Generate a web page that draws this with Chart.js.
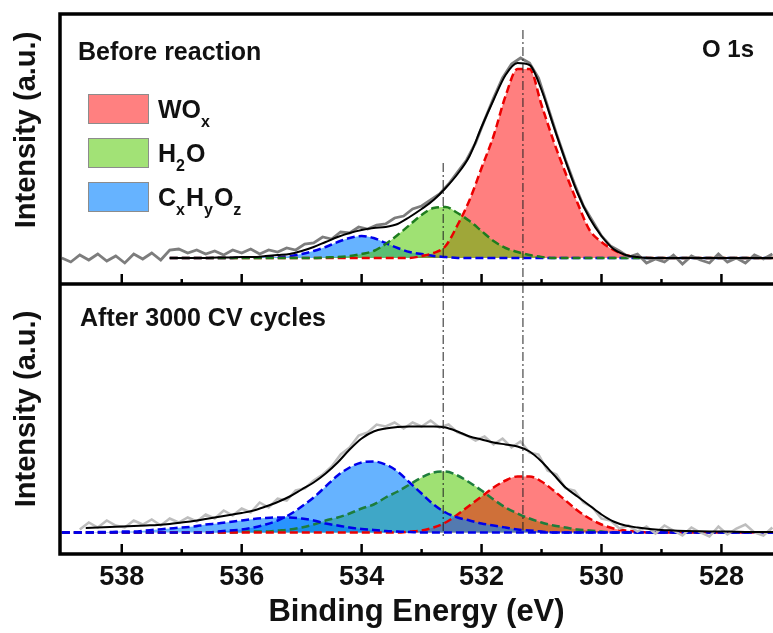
<!DOCTYPE html>
<html lang="en">
<head>
<meta charset="UTF-8" />
<title>O 1s XPS before / after reaction</title>
<script src="https://cdn.jsdelivr.net/npm/chart.js"></script>
<style>
  html, body { margin: 0; padding: 0; background: #fff; overflow: hidden; }
  canvas { display: block; }
</style>
</head>
<body>
<canvas id="xps" width="773" height="633"></canvas>
<script>
// binding energy grid for the fitted curves (eV)
const fitE = [
  539.0, 538.8, 538.6, 538.4, 538.2, 538.0, 537.8, 537.6, 537.4, 537.2,
  537.0, 536.8, 536.6, 536.4, 536.2, 536.0, 535.8, 535.6, 535.4, 535.2,
  535.0, 534.8, 534.6, 534.4, 534.2, 534.0, 533.8, 533.6, 533.4, 533.2,
  533.0, 532.8, 532.6, 532.4, 532.2, 532.0, 531.8, 531.6, 531.4, 531.2,
  531.0, 530.8, 530.6, 530.4, 530.2, 530.0, 529.8, 529.6, 529.4, 529.2,
  529.0, 528.8, 528.6, 528.4, 528.2, 528.0, 527.8, 527.6, 527.4, 527.2,
  527.0
];

// binding energy grid for the measured spectra (eV)
const rawE = [
  539.00, 538.85, 538.70, 538.55, 538.40, 538.25, 538.10, 537.95, 537.80, 537.65,
  537.50, 537.35, 537.20, 537.05, 536.90, 536.75, 536.60, 536.45, 536.30, 536.15,
  536.00, 535.85, 535.70, 535.55, 535.40, 535.25, 535.10, 534.95, 534.80, 534.65,
  534.50, 534.35, 534.20, 534.05, 533.90, 533.75, 533.60, 533.45, 533.30, 533.15,
  533.00, 532.85, 532.70, 532.55, 532.40, 532.25, 532.10, 531.95, 531.80, 531.65,
  531.50, 531.35, 531.20, 531.05, 530.90, 530.75, 530.60, 530.45, 530.30, 530.15,
  530.00, 529.85, 529.70, 529.55, 529.40, 529.25, 529.10, 528.95, 528.80, 528.65,
  528.50, 528.35, 528.20, 528.05, 527.90, 527.75, 527.60, 527.45, 527.30, 527.15
];

// ---- before reaction (a.u.) ----
const topWOx = [
  null, null, null, null, null, null, null, null, null, 0,
  0, 0, 0, 0, 0, 0, 0, 0, 0, 0,
  0, 0, 0, 0, 0, 0, 0, 0, 0, 0,
  2, 5, 12, 33, 58, 90, 122, 162, 189, 189,
  153, 117, 85, 55, 28, 16, 8, 3, 1, 0,
  0, 0, 0, 0, 0, 0, 0, 0, 0, 0,
  0
];
const topH2O = [
  null, null, null, null, null, null, null, null, null, 0,
  0, 0, 0, 0, 0, 0, 0, 0, 0, 0,
  0, 0, 0.5, 1, 2, 4, 7, 14, 23, 33,
  43, 50, 51, 45, 37, 27, 17, 10, 6, 3,
  1, 0, 0, 0, 0, 0, 0, 0, 0, 0,
  0, 0, 0, 0, 0, 0, 0, 0, 0, 0,
  0
];
const topCHO = [
  null, null, null, null, null, null, null, null, null, 0,
  0, 0, 0, 0, 0, 0.5, 0.5, 1, 1, 2,
  4, 7, 11, 16, 20, 22, 20, 15, 10, 6,
  4, 2, 1, 0, 0, 0, 0, 0, 0, 0,
  0, 0, 0, 0, 0, 0, 0, 0, 0, 0,
  0, 0, 0, 0, 0, 0, 0, 0, 0, 0,
  0
];
const topFit = [
  null, null, null, null, null, null, null, null, null, 0,
  0, 0, 0, 0.5, 0.5, 1, 1, 2, 3, 4,
  7, 11, 16, 21, 25, 28, 30, 31, 34, 41,
  49, 58, 70, 84, 102, 131, 158, 183, 195, 193,
  168, 132, 97, 65, 40, 22, 9, 3, 1, 0,
  0, 0, 0, 0, 0, 0, 0, 0, 0, 0,
  0
];
const topRaw = [
  0, -4, 3, -2, 4, -3, 2, -5, 4, -1,
  5, -2, 8, 9, 5, 8, 4, 7, 3, 8,
  5, 9, 4, 8, 6, 10, 8, 14, 15, 21,
  19, 26, 25, 31, 29, 33, 34, 40, 42, 49,
  52, 58, 64, 74, 86, 98, 115, 138, 160, 180,
  194, 200, 195, 180, 152, 124, 98, 74, 52, 37,
  22, 12, 7, 1, 4, -5, -1, -4, 3, -6,
  2, -2, -5, 4, -4, 0, -5, 3, -1, 4
];

// ---- after 3000 CV cycles (a.u.) ----
const botWOx = [
  0, 0, 0, 0, 0, 0, 0, 0, 0, 0,
  0, 0, 0, 0, 0, 0, 0, 0, 0, 0,
  0, 0, 0, 0, 0, 0, 0, 0, 0, 1,
  2, 5, 10, 18, 27, 36, 45, 52, 56, 56,
  51, 42, 32, 22, 14, 8, 4, 2, 1, 0,
  0, 0, 0, 0, 0, 0, 0, 0, 0, 0,
  0
];
const botH2O = [
  0, 0, 0, 0, 0, 0, 0, 0, 0, 0,
  0, 0, 0, 0, 0, 0.5, 1, 1, 2, 3,
  5, 8, 12, 15, 19, 24, 28, 35, 41, 48,
  55, 60, 61, 57, 50, 42, 33, 25, 19, 14,
  10, 7, 5, 3, 2, 1, 0, 0, 0, 0,
  0, 0, 0, 0, 0, 0, 0, 0, 0, 0,
  0
];
const botCHO = [
  0, 0, 0, 0, 0, 0, 0, 0, 0, 0,
  0, 0, 0, 1, 2, 3, 5, 8, 12, 18,
  26, 35, 46, 57, 65, 70, 71, 68, 61, 50,
  39, 28, 20, 15, 12, 9, 7, 5, 3, 2,
  1, 0, 0, 0, 0, 0, 0, 0, 0, 0,
  0, 0, 0, 0, 0, 0, 0, 0, 0, 0,
  0
];
const botCHO2 = [
  0, 0, 0, 0.5, 0.5, 1, 1, 2, 3, 4,
  5, 6, 8, 9, 10.5, 12, 13.5, 14.5, 15, 15,
  14, 12, 9, 7, 5, 3.5, 2.5, 1.5, 1, 0.5,
  0, 0, 0, 0, 0, 0, 0, 0, 0, 0,
  0, 0, 0, 0, 0, 0, 0, 0, 0, 0,
  0, 0, 0, 0, 0, 0, 0, 0, 0, 0,
  0
];
const botFit = [
  null, null, 4.5, 5, 5.5, 6, 6.5, 7, 7.5, 8.5,
  10, 11.5, 13.5, 15.5, 17.5, 19.5, 22, 26, 30.5, 36,
  43, 50, 59, 70, 83, 94, 101, 104, 105.5, 106,
  106, 106, 105, 101, 96, 93, 90, 88, 86, 81,
  71, 58, 45, 36, 27, 18, 11, 7, 5, 3.5,
  2.5, 2, 1.5, 1.2, 1, 1, 0.8, 0.6, 0.5, 0.5,
  0.5
];
const botRaw = [
  null, null, 3, 10, 5, 12, 7, 5, 12, 8,
  13, 7, 14, 10, 15, 11, 18, 14, 22, 17,
  24, 20, 30, 25, 34, 32, 42, 44, 52, 58,
  66, 78, 85, 97, 100, 108, 106, 110, 104, 110,
  106, 112, 105, 108, 100, 97, 92, 96, 88, 94,
  85, 91, 80, 78, 62, 58, 44, 42, 30, 25,
  14, 12, 4, 7, 1, 6, -1, 7, 2, -3,
  5, 0, -4, 6, -2, 4, 8, 0, -3, 5
];

// peak position guides (eV) and where each guide starts / ends
const guideE = [531.31, 532.64];
const guideTopStart = [228, 95];
const guideBotEnd = [2, -5];

// x axis ticks
const tickE = [538, 537, 536, 535, 534, 533, 532, 531, 530, 529, 528];
const tickLabels = ['538', '', '536', '', '534', '', '532', '', '530', '', '528'];

const legendColors = ['rgb(255,128,128)', 'rgb(162,226,118)', 'rgb(102,179,255)'];
const legendText = [
  [['WO', 0], ['x', 1]],
  [['H', 0], ['2', 1], ['O', 0]],
  [['C', 0], ['x', 1], ['H', 0], ['y', 1], ['O', 0], ['z', 1]]
];

const FONT = '"Liberation Sans", Arial, sans-serif';
Chart.defaults.font.family = FONT;

const RED_FILL = 'rgba(255,0,0,0.5)';
const GREEN_FILL = 'rgba(80,200,0,0.55)';
const BLUE_FILL = 'rgba(0,128,255,0.6)';

const pts = (xs, ys) => xs.map((x, i) => ({ x: x, y: ys[i] }));

function comp(label, ys, axis, line, fillColor, order) {
  return {
    label: label,
    data: pts(fitE, ys),
    yAxisID: axis,
    borderColor: line,
    backgroundColor: fillColor,
    fill: { value: 0 },
    borderWidth: 2.5,
    borderDash: [8, 4],
    pointRadius: 0,
    cubicInterpolationMode: 'monotone',
    order: order
  };
}

function curve(label, xs, ys, axis, color, width, order, smooth) {
  return {
    label: label,
    data: pts(xs, ys),
    yAxisID: axis,
    borderColor: color,
    borderWidth: width,
    pointRadius: 0,
    fill: false,
    cubicInterpolationMode: smooth ? 'monotone' : 'default',
    tension: 0,
    order: order
  };
}

const datasets = [
  // before reaction: blue under red under green
  comp('CxHyOz', topCHO, 'yT', 'rgb(0,0,235)', BLUE_FILL, 12),
  comp('WOx', topWOx, 'yT', 'rgb(235,0,0)', RED_FILL, 11),
  comp('H2O', topH2O, 'yT', 'rgb(30,125,30)', GREEN_FILL, 10),
  curve('raw', rawE, topRaw, 'yT', 'rgb(125,125,125)', 2.8, 3, false),
  curve('fit', fitE, topFit, 'yT', '#000', 2, 2, true),
  // after 3000 CV cycles: green under red under blue
  comp('H2O', botH2O, 'yB', 'rgb(30,125,60)', GREEN_FILL, 22),
  comp('WOx', botWOx, 'yB', 'rgb(235,0,0)', RED_FILL, 21),
  comp('CxHyOz', botCHO, 'yB', 'rgb(0,0,235)', BLUE_FILL, 20),
  comp('CxHyOz', botCHO2, 'yB', 'rgb(0,0,235)', BLUE_FILL, 19),
  curve('raw', rawE, botRaw, 'yB', 'rgb(190,190,190)', 2.5, 3, false),
  curve('fit', fitE, botFit, 'yB', '#000', 2, 2, true)
];

guideE.forEach((e, i) => {
  const g = { borderColor: '#222', borderWidth: 1, borderDash: [9, 3, 2, 3], pointRadius: 0, fill: false, order: 0 };
  datasets.push(Object.assign({ label: 'guide', yAxisID: 'yT', data: [{ x: e, y: guideTopStart[i] }, { x: e, y: -26 }] }, g));
  datasets.push(Object.assign({ label: 'guide', yAxisID: 'yB', data: [{ x: e, y: 248.5 }, { x: e, y: guideBotEnd[i] }] }, g));
});

function drawRich(ctx, parts, x, y) {
  parts.forEach(p => {
    ctx.font = p[1] ? 'bold 16px ' + FONT : 'bold 25px ' + FONT;
    ctx.fillText(p[0], x, p[1] ? y + 9 : y);
    x += ctx.measureText(p[0]).width + (p[1] ? 1 : 0);
  });
}

const decor = {
  id: 'decor',
  afterDatasetsDraw(chart) {
    const ctx = chart.ctx, a = chart.chartArea;
    const xs = chart.scales.x, yT = chart.scales.yT, yB = chart.scales.yB;
    ctx.save();
    ctx.strokeStyle = '#000';
    // inward ticks along the bottom of each panel
    ctx.lineWidth = 2.5;
    [yT.bottom, yB.bottom].forEach(y0 => {
      tickE.forEach((v, i) => {
        const px = xs.getPixelForValue(v);
        const len = tickLabels[i] ? 10 : 5;
        ctx.beginPath();
        ctx.moveTo(px, y0);
        ctx.lineTo(px, y0 - len);
        ctx.stroke();
      });
    });
    // frame, open on the right (cut off in the original)
    ctx.lineWidth = 3.5;
    ctx.beginPath();
    ctx.moveTo(a.right + 5, a.top);
    ctx.lineTo(a.left, a.top);
    ctx.lineTo(a.left, a.bottom);
    ctx.lineTo(a.right + 5, a.bottom);
    ctx.moveTo(a.left, yT.bottom);
    ctx.lineTo(a.right + 5, yT.bottom);
    ctx.stroke();
    ctx.restore();
  },
  afterDraw(chart) {
    const ctx = chart.ctx;
    ctx.save();
    ctx.fillStyle = '#111';
    ctx.textBaseline = 'alphabetic';
    ctx.textAlign = 'left';
    ctx.font = 'bold 25px ' + FONT;
    ctx.fillText('Before reaction', 78, 60);
    ctx.fillText('After 3000 CV cycles', 80, 326);
    ctx.font = 'bold 24px ' + FONT;
    ctx.fillText('O 1s', 702, 57);

    // y titles
    ctx.font = 'bold 29px ' + FONT;
    ctx.textAlign = 'center';
    [130, 409].forEach(cy => {
      ctx.save();
      ctx.translate(35, cy);
      ctx.rotate(-Math.PI / 2);
      ctx.fillText('Intensity (a.u.)', 0, 0);
      ctx.restore();
    });

    // legend
    ctx.textAlign = 'left';
    legendColors.forEach((c, i) => {
      const top = 94 + 44 * i;
      ctx.fillStyle = c;
      ctx.fillRect(88, top, 61, 30);
      ctx.strokeStyle = 'rgb(140,140,140)';
      ctx.lineWidth = 1;
      ctx.strokeRect(88.5, top + 0.5, 60, 29);
      ctx.fillStyle = '#111';
      drawRich(ctx, legendText[i], 158, top + 24);
    });
    ctx.restore();
  }
};

new Chart(document.getElementById('xps'), {
  type: 'line',
  data: { datasets: datasets },
  options: {
    responsive: false,
    animation: false,
    devicePixelRatio: 1,
    layout: { padding: { left: 60, top: 14, right: 0, bottom: 0 } },
    plugins: {
      legend: { display: false },
      tooltip: { enabled: false },
      filler: { drawTime: 'beforeDatasetsDraw' }
    },
    scales: {
      x: {
        type: 'linear',
        min: 527.14,
        max: 539.03,
        reverse: true,
        afterBuildTicks: (s) => { s.ticks = tickE.map(v => ({ value: v })); },
        afterFit: (s) => { s.height = 79; },
        grid: { display: false, drawTicks: false },
        border: { display: false },
        ticks: {
          autoSkip: false,
          maxRotation: 0,
          padding: 7,
          color: '#111',
          font: { size: 27, weight: 'bold' },
          callback: (v) => tickLabels[tickE.indexOf(v)]
        },
        title: {
          display: true,
          text: 'Binding Energy (eV)',
          color: '#111',
          font: { size: 31, weight: 'bold' },
          padding: { top: 0, bottom: 2 }
        }
      },
      yB: {
        type: 'linear',
        position: 'left',
        stack: 'xps',
        stackWeight: 1,
        min: -21.5,
        max: 248.5,
        display: false
      },
      yT: {
        type: 'linear',
        position: 'left',
        stack: 'xps',
        stackWeight: 1,
        min: -26,
        max: 244,
        display: false
      }
    }
  },
  plugins: [decor]
});
</script>
</body>
</html>
